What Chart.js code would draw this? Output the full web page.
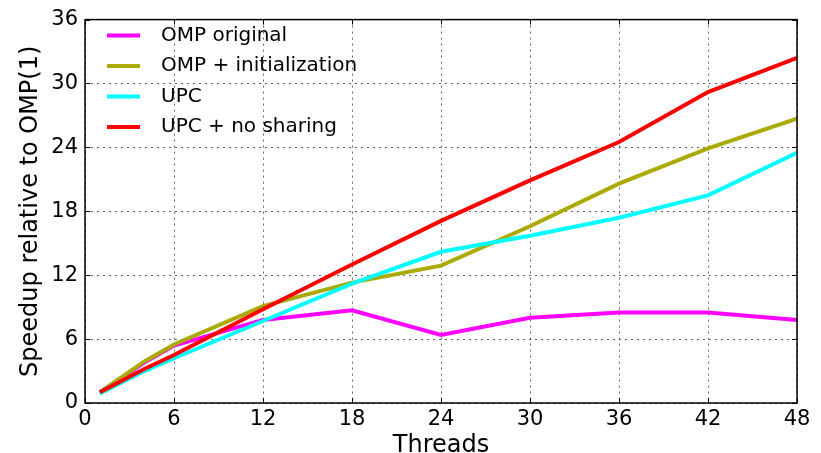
<!DOCTYPE html>
<html>
<head>
<meta charset="utf-8">
<script src="https://cdn.jsdelivr.net/npm/chart.js@4"></script>
<style>
  html, body { margin: 0; padding: 0; background: #ffffff; }
  #wrap { width: 821px; height: 453px; position: relative; }
</style>
</head>
<body>
<div id="wrap"><canvas id="chart"></canvas></div>
<script>
// thread counts on the x axis
const threads = [1, 4, 6, 12, 18, 24, 30, 36, 42, 48];

// speedup values
const ompOriginal = [1, 3.8, 5.4, 7.8, 8.7, 6.4, 8.0, 8.5, 8.5, 7.8];
const ompInit = [1, 3.9, 5.5, 9.1, 11.3, 12.9, 16.6, 20.6, 23.9, 26.7];
const upc = [0.9, 3.0, 4.2, 7.7, 11.2, 14.2, 15.7, 17.4, 19.5, 23.5];
const upcNoSharing = [1, 3.2, 4.5, 8.8, 13.0, 17.1, 20.9, 24.5, 29.2, 32.4];

const seriesNames = ["OMP original", "OMP + initialization", "UPC", "UPC + no sharing"];
const seriesColors = ["#ff00ff", "#aaaa00", "#00ffff", "#ff0000"];
const seriesValues = [ompOriginal, ompInit, upc, upcNoSharing];

const xTicks = [0, 6, 12, 18, 24, 30, 36, 42, 48];
const yTicks = [0, 6, 12, 18, 24, 30, 36];

const FONT = "'DejaVu Sans', sans-serif";

// frame + inward tick marks, matplotlib style
const framePlugin = {
  id: "frame",
  afterDatasetsDraw(chart) {
    const { ctx, chartArea: a, scales } = chart;
    ctx.save();
    ctx.strokeStyle = "#000000";
    ctx.lineWidth = 1;
    const len = 5;
    ctx.beginPath();
    xTicks.forEach((t) => {
      const x = Math.round(scales.x.getPixelForValue(t)) + 0.5;
      ctx.moveTo(x, a.bottom); ctx.lineTo(x, a.bottom - len);
      ctx.moveTo(x, a.top); ctx.lineTo(x, a.top + len);
    });
    yTicks.forEach((t) => {
      const y = Math.round(scales.y.getPixelForValue(t)) + 0.5;
      ctx.moveTo(a.left, y); ctx.lineTo(a.left + len, y);
      ctx.moveTo(a.right, y); ctx.lineTo(a.right - len, y);
    });
    ctx.stroke();
    ctx.lineWidth = 1.5;
    ctx.strokeRect(a.left, a.top, a.right - a.left, a.bottom - a.top);
    ctx.restore();
  },
  afterDraw(chart) {
    // legend inside the plot, top-left, no frame
    const { ctx, chartArea: a } = chart;
    ctx.save();
    ctx.font = "20px " + FONT;
    ctx.textBaseline = "middle";
    chart.data.datasets.forEach((ds, i) => {
      const y = a.top + 16 + i * 30.5;
      ctx.strokeStyle = ds.borderColor;
      ctx.lineWidth = 4;
      ctx.beginPath();
      ctx.moveTo(a.left + 22, y);
      ctx.lineTo(a.left + 55, y);
      ctx.stroke();
      ctx.fillStyle = "#000000";
      ctx.fillText(ds.label, a.left + 76, y);
    });
    ctx.restore();
  },
};

const datasets = seriesNames.map((name, i) => ({
  label: name,
  data: threads.map((t, j) => ({ x: t, y: seriesValues[i][j] })),
  borderColor: seriesColors[i],
  backgroundColor: seriesColors[i],
  borderWidth: 4,
  pointRadius: 0,
  tension: 0,
  fill: false,
  order: seriesNames.length - i,
}));

new Chart(document.getElementById("chart"), {
  type: "line",
  data: { datasets },
  plugins: [framePlugin],
  options: {
    responsive: true,
    maintainAspectRatio: false,
    animation: false,
    layout: { padding: { top: 17, right: 24, left: 0, bottom: 0 } },
    plugins: {
      legend: { display: false },
      tooltip: { enabled: false },
    },
    scales: {
      x: {
        type: "linear",
        min: 0,
        max: 48,
        afterBuildTicks: (s) => { s.ticks = xTicks.map((v) => ({ value: v })); },
        afterFit: (s) => { s.height = 50; },
        ticks: { color: "#000000", font: { family: FONT, size: 21, lineHeight: 1 }, padding: 6, maxRotation: 0 },
        grid: { color: "rgba(0,0,0,0.6)", drawTicks: false, lineWidth: 1 },
        border: { display: false, dash: [2, 4] },
        title: { display: true, text: "Threads", color: "#000000", font: { family: FONT, size: 24, lineHeight: 1 }, padding: { top: 0, bottom: -5 } },
      },
      y: {
        min: 0,
        max: 36,
        afterBuildTicks: (s) => { s.ticks = yTicks.map((v) => ({ value: v })); },
        afterFit: (s) => { s.width = 85; },
        ticks: { color: "#000000", font: { family: FONT, size: 21 }, padding: 7 },
        grid: { color: "rgba(0,0,0,0.6)", drawTicks: false, lineWidth: 1 },
        border: { display: false, dash: [2, 4] },
        title: { display: true, text: "Speedup relative to OMP(1)", color: "#000000", font: { family: FONT, size: 24, lineHeight: 1 }, padding: { top: 19, bottom: 0 } },
      },
    },
  },
});
</script>
</body>
</html>
